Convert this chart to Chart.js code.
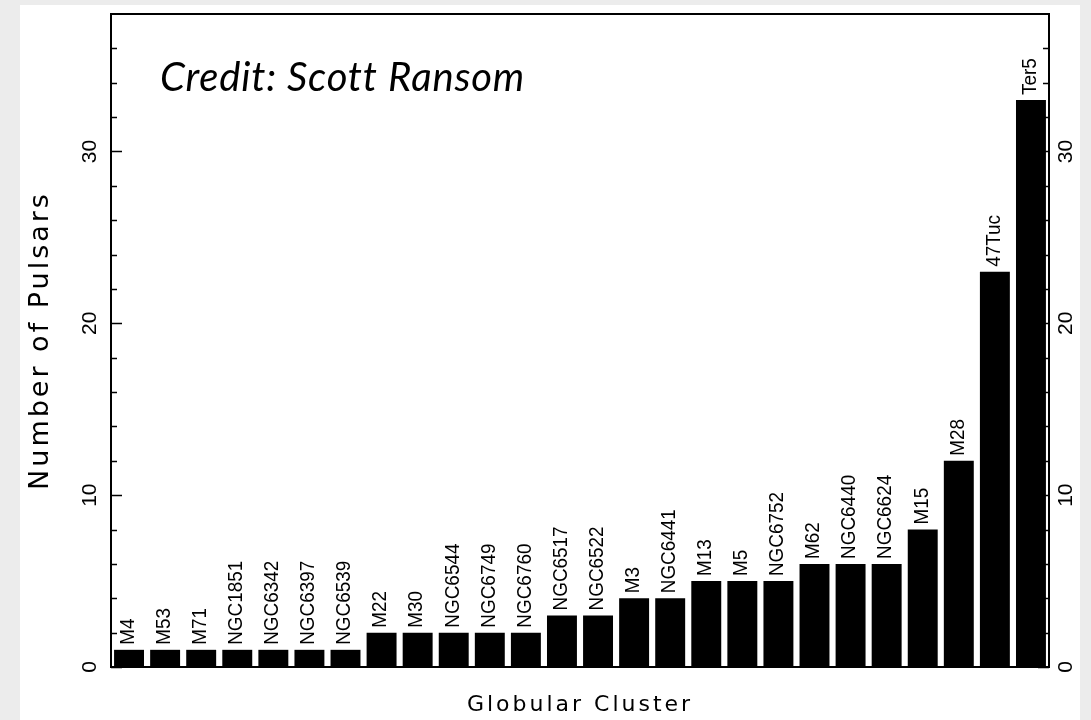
<!DOCTYPE html>
<html>
<head>
<meta charset="utf-8">
<script src="https://cdn.jsdelivr.net/npm/chart.js@4/dist/chart.umd.min.js"></script>
<style>
  html, body { margin: 0; padding: 0; }
  body { width: 1091px; height: 720px; background: #ececec; position: relative; overflow: hidden; }
  #panel { position: absolute; left: 20px; top: 5px; width: 1060px; height: 715px; background: #ffffff; }
  #wrap { position: absolute; left: 0; top: 0; width: 1091px; height: 720px; }
</style>
</head>
<body>
<div id="panel"></div>
<div id="wrap"><canvas id="c" width="1091" height="720"></canvas></div>
<script>
// ---- data ----
const clusters = ["M4","M53","M71","NGC1851","NGC6342","NGC6397","NGC6539","M22","M30","NGC6544","NGC6749","NGC6760","NGC6517","NGC6522","M3","NGC6441","M13","M5","NGC6752","M62","NGC6440","NGC6624","M15","M28","47Tuc","Ter5"];
const pulsarCounts = [1,1,1,1,1,1,1,2,2,2,2,2,3,3,4,4,5,5,5,6,6,6,8,12,23,33];
const yTickValues = [0,10,20,30];
const minorTickValues = [0,2,4,6,8,10,12,14,16,18,20,22,24,26,28,30,32,34,36];
const yTitle = "Number of Pulsars";
const xTitle = "Globular Cluster";
const creditText = "Credit: Scott Ransom";

const framePlugin = {
  id: 'frame',
  beforeDraw(chart) {
    chart.ctx.letterSpacing = '3px';
  },
  afterDatasetsDraw(chart) {
    const ctx = chart.ctx;
    const a = chart.chartArea;
    const ys = chart.scales.y;
    ctx.save();
    ctx.letterSpacing = '0px';
    // bar labels
    const meta = chart.getDatasetMeta(0);
    ctx.fillStyle = '#000';
    ctx.font = '21px "Liberation Sans", Arial, sans-serif';
    ctx.textAlign = 'left';
    ctx.textBaseline = 'middle';
    meta.data.forEach((bar, i) => {
      ctx.save();
      ctx.translate(bar.x - 1, bar.y - 5);
      ctx.rotate(-Math.PI / 2);
      ctx.scale(0.9, 1);
      ctx.fillText(clusters[i], 0, 0);
      ctx.restore();
    });
    // frame
    ctx.strokeStyle = '#000';
    ctx.lineWidth = 2;
    ctx.strokeRect(a.left, a.top, a.right - a.left, a.bottom - a.top);
    // inward ticks on both sides
    ctx.lineWidth = 1.5;
    minorTickValues.forEach(v => {
      const y = Math.round(ys.getPixelForValue(v)) + 0.5;
      const len = (v % 10 === 0) ? 11 : 6;
      ctx.beginPath();
      ctx.moveTo(a.left, y); ctx.lineTo(a.left + len, y);
      ctx.moveTo(a.right, y); ctx.lineTo(a.right - len, y);
      ctx.stroke();
    });
    // credit annotation
    ctx.font = 'italic 40px Lato, "Open Sans", sans-serif';
    ctx.letterSpacing = '0.8px';
    ctx.textAlign = 'left';
    ctx.textBaseline = 'alphabetic';
    ctx.fillText(creditText, a.left + 49, a.top + 77, 366);
    ctx.restore();
    ctx.letterSpacing = '0px';
  }
};

const yTickOpts = (pad) => ({
  min: 0, max: 38,
  ticks: {
    stepSize: 10,
    includeBounds: false,
    minRotation: 90, maxRotation: 90,
    crossAlign: 'center',
    padding: pad,
    color: '#000',
    z: 1,
    font: { family: '"Liberation Sans", Arial, sans-serif', size: 21 }
  },
  grid: { display: false, drawTicks: false },
  border: { display: false }
});

const yLeft = Object.assign(yTickOpts(9), {
  position: 'left',
  title: {
    display: true, text: yTitle, color: '#000',
    font: { family: '"DejaVu Sans", sans-serif', size: 27 },
    padding: { top: 25, bottom: 0 }
  },
  afterFit(s) { s.width = 111; s.paddingTop = 0; s.paddingBottom = 0; }
});
const yRight = Object.assign(yTickOpts(6), {
  position: 'right',
  afterFit(s) { s.width = 42; s.paddingTop = 0; s.paddingBottom = 0; }
});

new Chart(document.getElementById('c'), {
  type: 'bar',
  data: {
    labels: clusters,
    datasets: [{
      data: pulsarCounts,
      backgroundColor: '#000',
      borderWidth: 0,
      categoryPercentage: 1.0,
      barPercentage: 0.83
    }]
  },
  options: {
    responsive: false,
    animation: false,
    devicePixelRatio: 1,
    layout: { padding: { top: 14, left: 0, right: 0, bottom: 0 } },
    plugins: { legend: { display: false }, tooltip: { enabled: false } },
    scales: {
      x: {
        ticks: { display: false },
        grid: { display: false, drawTicks: false },
        border: { display: false },
        title: {
          display: true, text: xTitle, color: '#000',
          font: { family: '"DejaVu Sans", sans-serif', size: 22 },
          padding: { top: 0, bottom: 2 }
        },
        afterFit(s) { s.height = 53; s.paddingLeft = 0; s.paddingRight = 0; }
      },
      y: yLeft,
      y2: yRight
    }
  },
  plugins: [framePlugin]
});
</script>
</body>
</html>
